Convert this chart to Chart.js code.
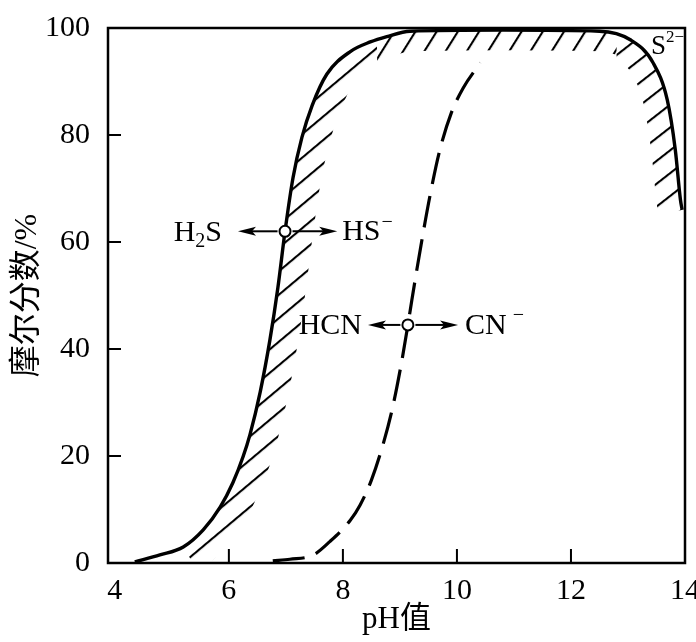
<!DOCTYPE html>
<html>
<head>
<meta charset="utf-8">
<script src="https://cdn.jsdelivr.net/npm/chart.js@4/dist/chart.umd.min.js"></script>
<style>
html,body{margin:0;padding:0;background:#fff;}
#wrap{width:696px;height:642px;}
</style>
</head>
<body>
<div id="wrap"><canvas id="c" width="696" height="642"></canvas></div>
<script>
// ---- data ----
const phTicks = [4, 6, 8, 10, 12, 14];
const fracTicks = [0, 20, 40, 60, 80, 100];

// H2S -> HS- -> S2- (solid curve)
const phSulfide   = [4.35, 4.79, 5.20, 5.55, 5.85, 6.07, 6.25, 6.37, 6.55, 6.72, 6.86, 6.985, 7.125, 7.28, 7.46, 7.72, 8.13, 8.48, 8.77, 9.18, 10.8, 12.5, 13.04, 13.44, 13.69, 13.83, 13.92, 13.95];
const fracSulfide = [0.2, 1.5, 3.0, 6.2, 10.5, 15.0, 19.9, 24.0, 32.0, 41.7, 51.5, 62.0, 72.0, 79.5, 85.5, 91.4, 95.6, 97.4, 98.4, 99.4, 99.6, 99.4, 97.8, 93.5, 86.5, 77.2, 67.9, 66.0];

// HCN -> CN- (dashed curve)
const phCyanide   = [6.77, 7.07, 7.48, 7.77, 8.13, 8.30, 8.50, 8.70, 8.86, 9.02, 9.14, 9.21, 9.37, 9.53, 9.70, 9.90, 10.11, 10.41];
const fracCyanide = [0.4, 0.7, 1.5, 4.0, 8.0, 10.8, 15.5, 22.0, 28.5, 37.0, 44.5, 49.2, 59.4, 68.8, 77.2, 84.1, 88.8, 93.5];

// transition points (open circles)
const pointH2S = [6.985, 62.0];
const pointHCN = [9.14, 44.5];

// arrow end points (pH) from each transition point
const arrowH2S = [6.16, 7.90];
const arrowHCN = [8.44, 10.02];

const yTitle = '摩尔分数/%';
const xTitle = 'pH值';
</script>
<script>
const SERIF = '"Liberation Serif", "Times New Roman", "Noto Sans CJK SC", serif';
const toXY = (xs, ys) => xs.map((x, i) => ({x: x, y: ys[i]}));

// hatch pattern: horizontal lines rotated to "/"
function makePattern(ctx, angle) {
  const pc = document.createElement('canvas');
  pc.width = 8; pc.height = 18;
  const p = pc.getContext('2d');
  p.fillStyle = '#000';
  p.fillRect(0, 8, 8, 2.1);
  const pat = ctx.createPattern(pc, 'repeat');
  if (pat.setTransform) pat.setTransform(new DOMMatrix().rotate(-angle));
  return pat;
}

function trace(ctx, pts, from) {
  ctx.moveTo(pts[from].x, pts[from].y);
  for (let i = from + 1; i < pts.length; i++) {
    const p = pts[i - 1], q = pts[i];
    if (p.cp2x !== undefined && q.cp1x !== undefined) {
      ctx.bezierCurveTo(p.cp2x, p.cp2y, q.cp1x, q.cp1y, q.x, q.y);
    } else {
      ctx.lineTo(q.x, q.y);
    }
  }
}

function drawRich(ctx, parts, x, y, align) {
  let w = 0;
  parts.forEach(pt => { ctx.font = pt.s + 'px ' + SERIF; pt.w = ctx.measureText(pt.t).width; w += pt.w + (pt.gap || 0); });
  let cx = align === 'right' ? x - w : x;
  ctx.textAlign = 'left';
  ctx.textBaseline = 'middle';
  ctx.fillStyle = '#000';
  parts.forEach(pt => {
    cx += (pt.gap || 0);
    ctx.font = pt.s + 'px ' + SERIF;
    ctx.fillText(pt.t, cx, y + (pt.dy || 0));
    cx += pt.w;
  });
}

function arrow(ctx, x0, y0, x1, y) {
  const dir = Math.sign(x1 - x0);
  ctx.beginPath();
  ctx.moveTo(x0, y);
  ctx.lineTo(x1 - dir * 12, y);
  ctx.lineWidth = 2;
  ctx.strokeStyle = '#000';
  ctx.stroke();
  ctx.beginPath();
  ctx.moveTo(x1, y);
  ctx.lineTo(x1 - dir * 18, y - 4.5);
  ctx.lineTo(x1 - dir * 14, y);
  ctx.lineTo(x1 - dir * 18, y + 4.5);
  ctx.closePath();
  ctx.fillStyle = '#000';
  ctx.fill();
}

const bgPlugin = {
  id: 'bg',
  beforeDraw(chart) {
    const ctx = chart.ctx;
    ctx.save();
    ctx.fillStyle = '#fff';
    ctx.fillRect(0, 0, chart.width, chart.height);
    ctx.restore();
  }
};

// hatch bands: [pH from, pH to, angle, band width]
const hatchBands = [[3.8, 8.6, 40, 56], [8.6, 12.8, 58, 40], [12.8, 14.2, 38, 48]];
const hatchPlugin = {
  id: 'hatch',
  afterDatasetDraw(chart, args) {
    if (args.index !== 2) return;
    const ctx = chart.ctx;
    const pts = args.meta.data;
    const ca = chart.chartArea;
    const xs = chart.scales.x;
    const from = phSulfide.findIndex(v => v >= 5.2);
    const last = pts[pts.length - 1];
    hatchBands.forEach(b => {
      const x0 = Math.max(ca.left, xs.getPixelForValue(b[0]));
      const x1 = Math.min(ca.right, xs.getPixelForValue(b[1]));
      ctx.save();
      ctx.beginPath();
      ctx.rect(x0, ca.top, x1 - x0, ca.bottom - ca.top);
      ctx.clip();
      ctx.beginPath();
      trace(ctx, pts, from);
      ctx.lineTo(last.x, ca.bottom + 100);
      ctx.lineTo(pts[from].x, ca.bottom + 100);
      ctx.closePath();
      ctx.clip();
      ctx.beginPath();
      trace(ctx, pts, from);
      ctx.lineWidth = b[3];
      ctx.lineJoin = 'round';
      ctx.lineCap = 'butt';
      ctx.strokeStyle = makePattern(ctx, b[2]);
      ctx.stroke();
      ctx.restore();
    });
  }
};

const framePlugin = {
  id: 'frame',
  afterDatasetsDraw(chart) {
    const ctx = chart.ctx;
    const ca = chart.chartArea;
    const xs = chart.scales.x, ys = chart.scales.y;
    ctx.save();
    ctx.strokeStyle = '#000';
    ctx.lineWidth = 2.5;
    ctx.strokeRect(ca.left, ca.top, ca.right - ca.left, ca.bottom - ca.top);
    // inward tick marks
    ctx.lineWidth = 2;
    ctx.beginPath();
    ys.ticks.forEach(t => {
      if (t.value <= 0 || t.value >= 100) return;
      const y = ys.getPixelForValue(t.value);
      ctx.moveTo(ca.left, y); ctx.lineTo(ca.left + 13, y);
    });
    xs.ticks.forEach(t => {
      if (t.value <= 4 || t.value >= 14) return;
      const x = xs.getPixelForValue(t.value);
      ctx.moveTo(x, ca.bottom); ctx.lineTo(x, ca.bottom - 14);
    });
    ctx.stroke();

    // arrows
    const r = 7.5;
    const hx = xs.getPixelForValue(pointH2S[0]), hy = ys.getPixelForValue(pointH2S[1]);
    arrow(ctx, hx - r, hy, xs.getPixelForValue(arrowH2S[0]), hy);
    arrow(ctx, hx + r, hy, xs.getPixelForValue(arrowH2S[1]), hy);
    const cx = xs.getPixelForValue(pointHCN[0]), cy = ys.getPixelForValue(pointHCN[1]);
    arrow(ctx, cx - r, cy, xs.getPixelForValue(arrowHCN[0]), cy);
    arrow(ctx, cx + r, cy, xs.getPixelForValue(arrowHCN[1]), cy);

    // labels
    drawRich(ctx, [{t: 'H', s: 30}, {t: '2', s: 20, dy: 8}, {t: 'S', s: 30}],
      xs.getPixelForValue(arrowH2S[0]) - 16, hy + 2, 'right');
    drawRich(ctx, [{t: 'HS', s: 30}, {t: '\u2212', s: 20, dy: -10, gap: 1}],
      xs.getPixelForValue(arrowH2S[1]) + 5, hy + 1, 'left');
    drawRich(ctx, [{t: 'HCN', s: 30}],
      xs.getPixelForValue(arrowHCN[0]) - 6, cy + 1, 'right');
    drawRich(ctx, [{t: 'CN', s: 30}, {t: '\u2212', s: 20, dy: -10, gap: 6}],
      xs.getPixelForValue(arrowHCN[1]) + 7, cy + 1, 'left');
    drawRich(ctx, [{t: 'S', s: 27}, {t: '2\u2212', s: 17, dy: -9}],
      ca.right - 1, ca.top + 19, 'right');
    ctx.restore();
  }
};

const ctx = document.getElementById('c').getContext('2d');
new Chart(ctx, {
  type: 'scatter',
  data: {
    datasets: [
      {
        label: 'H2S/HS-',
        data: [{x: pointH2S[0], y: pointH2S[1]}],
        pointRadius: 5.5, pointBorderWidth: 2,
        pointBackgroundColor: '#fff', pointBorderColor: '#000',
        showLine: false
      },
      {
        label: 'HCN/CN-',
        data: [{x: pointHCN[0], y: pointHCN[1]}],
        pointRadius: 5.5, pointBorderWidth: 2,
        pointBackgroundColor: '#fff', pointBorderColor: '#000',
        showLine: false
      },
      {
        label: 'sulfide',
        data: toXY(phSulfide, fracSulfide),
        showLine: true, borderColor: '#000', borderWidth: 3.4,
        pointRadius: 0, cubicInterpolationMode: 'monotone', fill: false
      },
      {
        label: 'cyanide',
        data: toXY(phCyanide, fracCyanide),
        showLine: true, borderColor: '#000', borderWidth: 3.2,
        borderDash: [32, 12], borderCapStyle: 'butt',
        pointRadius: 0, cubicInterpolationMode: 'monotone', fill: false
      }
    ]
  },
  options: {
    responsive: false,
    animation: false,
    devicePixelRatio: 1,
    layout: {padding: {top: 28, right: 11, left: 0, bottom: 0}},
    plugins: {legend: {display: false}, tooltip: {enabled: false}},
    scales: {
      x: {
        type: 'linear', min: 3.88, max: 14,
        afterBuildTicks: s => { s.ticks = phTicks.map(v => ({value: v})); },
        afterFit: s => { s.height = 79; s.paddingLeft = 0; s.paddingRight = 0; },
        grid: {display: false},
        border: {display: false},
        ticks: {color: '#000', padding: 2, font: {family: SERIF, size: 30}, maxRotation: 0, autoSkip: false},
        title: {display: true, text: xTitle, color: '#000', font: {family: SERIF, size: 31}, padding: {top: 0, bottom: 4}}
      },
      y: {
        type: 'linear', min: 0, max: 100,
        afterBuildTicks: s => { s.ticks = fracTicks.map(v => ({value: v})); },
        afterFit: s => { s.width = 108; s.paddingTop = 0; s.paddingBottom = 0; },
        grid: {display: false},
        border: {display: false},
        ticks: {color: '#000', padding: 10, font: {family: SERIF, size: 30}},
        title: {display: true, text: yTitle, color: '#000', font: {family: SERIF, size: 32}, padding: {top: 8, bottom: 0}}
      }
    }
  },
  plugins: [bgPlugin, hatchPlugin, framePlugin]
});
</script>
</body>
</html>
